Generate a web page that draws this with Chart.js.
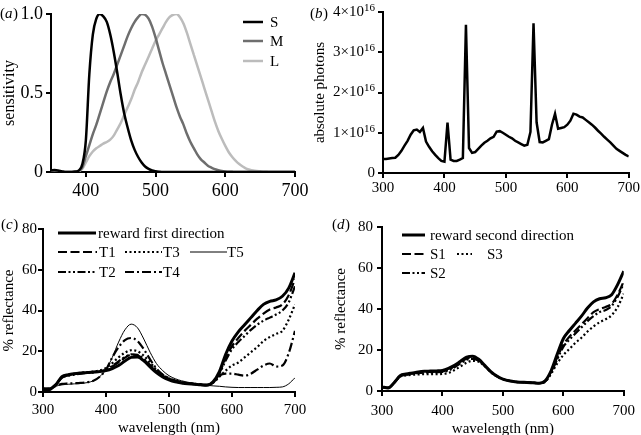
<!DOCTYPE html>
<html>
<head>
<meta charset="utf-8">
<script src="https://cdn.jsdelivr.net/npm/chart.js@4.4.0/dist/chart.umd.min.js"></script>
<style>
html, body { margin: 0; padding: 0; background: #fff; width: 641px; height: 435px; overflow: hidden; }
canvas { position: absolute; }
</style>
</head>
<body>
<canvas id="ca" width="320" height="200" style="left:0;top:0"></canvas>
<canvas id="cb" width="341" height="200" style="left:300px;top:0"></canvas>
<canvas id="cc" width="320" height="235" style="left:0;top:200px"></canvas>
<canvas id="cd" width="321" height="235" style="left:320px;top:200px"></canvas>
<script>
// (a) cone sensitivities, 5 nm steps
var nmA = [350,355,360,365,370,375,380,385,390,395,400,405,410,415,420,425,430,435,440,445,450,455,460,465,470,475,480,485,490,495,500,505,510,515,520,525,530,535,540,545,550,555,560,565,570,575,580,585,590,595,600,605,610,615,620,625,630,635,640,645,650,655,660,665,670,675,680,685,690,695,700];
var sensS = [0.01,0.012,0.01,0.005,0,0,0,0.003,0.01,0.05,0.2,0.62,0.87,0.97,1.0,0.985,0.95,0.87,0.76,0.63,0.49,0.37,0.28,0.2,0.14,0.095,0.06,0.035,0.02,0.01,0.005,0.002,0,0,0,0,0,0,0,0,0,0,0,0,0,0,0,0,0,0,0,0,0,0,0,0,0,0,0,0,0,0,0,0,0,0,0,0,0,0,0];
var sensM = [0.005,0.005,0.003,0,0,0,0,0,0.005,0.03,0.1,0.17,0.24,0.3,0.37,0.44,0.51,0.57,0.62,0.68,0.74,0.8,0.86,0.91,0.95,0.98,1.0,0.995,0.97,0.92,0.85,0.77,0.69,0.62,0.55,0.48,0.41,0.35,0.3,0.24,0.19,0.15,0.11,0.08,0.06,0.04,0.028,0.018,0.012,0.007,0.004,0.002,0.001,0,0,0,0,0,0,0,0,0,0,0,0,0,0,0,0,0,0];
var sensL = [0.005,0.005,0.003,0,0,0,0,0,0.005,0.02,0.06,0.1,0.13,0.15,0.165,0.18,0.19,0.205,0.23,0.27,0.31,0.36,0.41,0.46,0.52,0.57,0.63,0.68,0.73,0.78,0.83,0.87,0.91,0.95,0.98,0.995,1.0,0.98,0.94,0.88,0.81,0.74,0.67,0.6,0.53,0.46,0.39,0.32,0.26,0.21,0.165,0.125,0.095,0.07,0.05,0.035,0.022,0.014,0.009,0.006,0.004,0.002,0.001,0,0,0,0,0,0,0,0];
var ticksAx = [400, 500, 600, 700];
var ticksAy = [0, 0.5, 1];

// (b) light spectrum, absolute photons in units of 10^16
var nmB = [300,305,310,315,320,325,330,335,340,345,350,355,360,365,370,375,380,385,390,395,400,405,410,415,420,425,430,435,440,445,450,455,460,465,470,475,480,485,490,495,500,505,510,515,520,525,530,535,540,545,550,555,560,565,570,575,580,585,590,595,600,605,610,615,620,625,630,635,640,645,650,655,660,665,670,675,680,685,690,695,700];
var photons = [0.35,0.35,0.36,0.37,0.38,0.45,0.55,0.68,0.8,0.95,1.06,1.08,1.02,1.12,0.78,0.65,0.54,0.45,0.37,0.3,0.28,1.25,0.33,0.3,0.3,0.33,0.37,3.68,0.62,0.5,0.52,0.6,0.68,0.75,0.8,0.86,0.9,1.03,1.04,1.0,0.95,0.9,0.86,0.8,0.76,0.72,0.68,0.7,1.02,3.72,1.26,0.77,0.76,0.8,0.84,1.2,1.47,1.1,1.12,1.14,1.2,1.3,1.47,1.45,1.4,1.38,1.32,1.26,1.2,1.13,1.05,0.98,0.9,0.83,0.76,0.68,0.6,0.55,0.5,0.45,0.41];
var ticksBx = [300, 400, 500, 600, 700];
var ticksBy = [0, 1, 2, 3, 4];

// (c), (d) reflectance, 10 nm steps
var nmCD = [300,310,320,330,340,350,360,370,380,390,400,410,420,430,440,450,460,470,480,490,500,510,520,530,540,550,560,570,580,590,600,610,620,630,640,650,660,670,680,690,700];
var rewardFirst = [1.5,1.5,3.5,7.5,8.5,9,9.3,9.6,9.8,10,10.5,11.5,13,15.2,17,17.2,15.3,12.3,9.5,7.4,6,5,4.4,4,3.8,3.5,3.3,5,10,18.5,25,29.5,33,36.5,40,43,44.5,45.2,47,51,58.5];
var t1 = [1.5,1.5,3.5,7,8.3,8.8,9.2,9.5,9.8,10.2,10.8,12.5,14.5,16.8,18.3,18,16,13,10,7.8,6.3,5.2,4.5,4.1,3.9,3.6,3.4,4.8,9.5,16.5,22.5,26.5,30,33,36,38.5,40.5,41.5,43,47.5,55.5];
var t2 = [1.5,1.5,3.5,7,8,8.5,9,9.3,9.6,10.2,10.8,12.8,15,17.2,18.5,18.2,16.2,13.2,10.2,7.9,6.4,5.3,4.6,4.2,4,3.7,3.5,4.6,9,15.5,21,24.5,27.5,30.5,33,35,36.5,38,40,44,52];
var t3 = [1.5,1.5,3.5,7.3,8.5,9,9.4,9.7,10,10.6,11.8,14.2,17,19.3,20.5,20,17.8,14.5,11,8.5,6.8,5.5,4.7,4.2,3.9,3.6,3.4,4.5,7.5,10.5,13,14.5,17,19.5,22,25,27,28.5,30,35.5,43];
var t4 = [1,1,3,4,4.2,4.3,4.5,4.8,5.5,7.5,11,17,22,25.5,26.5,25,21,16,11.5,8.5,6.8,5.6,4.8,4.3,4,3.7,3.5,4.5,8,9,9,8.5,8,9,11,13,14,12.5,13,19,30];
var t5 = [1,1,2.8,3.5,3.8,4,4.2,4.6,5.5,7.5,11,17,24.5,30.5,33.3,31.5,26,19.5,14,10.5,8,6.5,5.5,4.8,4.2,3.8,3.3,3,2.8,2.5,2.3,2.2,2.2,2.2,2.2,2.2,2.2,2.3,2.5,4,7];
var rewardSecond = [2,1.5,4,7.5,8.3,8.8,9.3,9.6,9.7,9.8,10,11,12.5,14.5,16.5,17,15.5,12.5,9.5,7.3,5.8,5,4.5,4.3,4.2,4,3.8,5,10,18,25.5,29.5,33,36.5,40.5,43.5,45,45.5,47,52,58.5];
var s1 = [2,1.5,4,7.3,8,8.5,9,9.2,9.3,9.4,9.5,10.5,12,14,15.8,16.2,15,12.3,9.4,7.2,5.8,5,4.5,4.3,4.2,4,3.8,4.8,9.5,16.5,22.5,26.5,29.5,32.5,35.5,38.5,40,41,42.5,47,53.5];
var s2 = [2,1.5,4,7.2,8,8.4,8.8,9,9.1,9.2,9.3,10,11.5,13.5,15.2,15.7,14.8,12.2,9.3,7.2,5.8,5,4.5,4.3,4.2,4,3.8,4.7,9,15.5,21.5,25,28,31,34,36.5,38.5,39.5,41.5,46,52.5];
var s3 = [2,1.5,4,7,7.6,7.9,8.1,8.2,8.2,8.2,8.3,8.8,10.2,12,13.8,14.7,14.3,12,9.2,7.1,5.7,5,4.5,4.3,4.2,4,3.8,4.5,8.5,13.5,17.5,20.5,23.5,26,29,31.5,33.5,35,37,41,47.5];
var ticksCx = [300, 400, 500, 600, 700];
var ticksCy = [0, 20, 40, 60, 80];

var serif = "'Liberation Serif', 'Times New Roman', serif";
Chart.defaults.font.family = serif;
Chart.defaults.color = '#000';
Chart.defaults.animation = false;
Chart.defaults.devicePixelRatio = 1;

function xy(xs, ys) {
    return xs.map(function (x, i) { return {x: x, y: ys[i]}; });
}

function axis(o) {
    return {
        type: 'linear', min: o.min, max: o.max,
        afterBuildTicks: function (s) { s.ticks = o.ticks.map(function (v) { return {value: v}; }); },
        afterFit: function (s) { if (s.isHorizontal()) s.height = o.size; else s.width = o.size; },
        grid: {display: true, drawOnChartArea: false, drawTicks: true, tickLength: 5, color: '#000', lineWidth: 2},
        border: {display: true, color: '#000', width: 2},
        ticks: {font: {size: o.fs || 15}, color: '#000', padding: o.pad, maxRotation: 0, autoSkip: false, callback: o.cb},
        title: o.title ? {display: true, text: o.title, color: '#000', font: {size: o.ts || 15}, padding: o.tp} : {display: false}
    };
}

function line(label, data, color, width, dash, smooth) {
    return {
        label: label, data: data, borderColor: color, backgroundColor: color, borderWidth: width,
        borderDash: dash || [], pointRadius: 0, fill: false,
        cubicInterpolationMode: smooth ? 'monotone' : 'default', tension: 0
    };
}

function letter(ch, x, y) {
    return {
        id: 'letter', afterDraw: function (chart) {
            var ctx = chart.ctx;
            ctx.save();
            ctx.fillStyle = '#000';
            ctx.textBaseline = 'middle';
            ctx.textAlign = 'left';
            ctx.font = '15px ' + serif;
            ctx.fillText('(', x, y);
            var w = ctx.measureText('(').width;
            ctx.font = 'italic 15px ' + serif;
            ctx.fillText(ch, x + w, y);
            w += ctx.measureText(ch).width + 0.5;
            ctx.font = '15px ' + serif;
            ctx.fillText(')', x + w, y);
            ctx.restore();
        }
    };
}

function legend(items) {
    return {
        id: 'lgd', afterDraw: function (chart) {
            var ctx = chart.ctx;
            ctx.save();
            items.forEach(function (it) {
                var ds = chart.data.datasets[it.i];
                ctx.strokeStyle = ds.borderColor;
                ctx.lineWidth = ds.borderWidth;
                ctx.setLineDash(ds.borderDash);
                ctx.beginPath();
                ctx.moveTo(it.x, it.y);
                ctx.lineTo(it.x + it.len, it.y);
                ctx.stroke();
                ctx.setLineDash([]);
                ctx.fillStyle = '#000';
                ctx.font = '15px ' + serif;
                ctx.textBaseline = 'middle';
                ctx.textAlign = 'left';
                ctx.fillText(ds.label, it.tx, it.y + 1);
            });
            ctx.restore();
        }
    };
}

var sciLabels = {
    id: 'sci', afterDraw: function (chart) {
        var ys = chart.scales.y, ctx = chart.ctx, right = ys.right - 8;
        ctx.save();
        ctx.fillStyle = '#000';
        ctx.textBaseline = 'middle';
        ticksBy.forEach(function (v) {
            var y = ys.getPixelForValue(v);
            if (v === 0) {
                ctx.font = '15px ' + serif;
                ctx.textAlign = 'right';
                ctx.fillText('0', right, y);
                return;
            }
            ctx.font = '11px ' + serif;
            var w = ctx.measureText('16').width;
            ctx.textAlign = 'right';
            ctx.fillText('16', right, y - 4);
            ctx.font = '15px ' + serif;
            ctx.fillText(v + '×10', right - w, y);
        });
        ctx.restore();
    }
};

var DASH = [9, 3.5], DOT = [2, 2.5], DDOT = [8, 2.5, 2, 2.5, 2, 2.5], DDASH = [9, 3, 2, 3];

// (a)
new Chart(document.getElementById('ca'), {
    type: 'line',
    data: {datasets: [
        line('S', xy(nmA, sensS), '#000000', 2.5, null, true),
        line('M', xy(nmA, sensM), '#6e6e6e', 2.5, null, true),
        line('L', xy(nmA, sensL), '#bcbcbc', 2.5, null, true)
    ]},
    options: {
        responsive: false, animation: false,
        layout: {padding: {top: 14, right: 25, left: 0, bottom: 0}},
        plugins: {legend: {display: false}, tooltip: {enabled: false}},
        scales: {
            x: axis({min: 350, max: 700, ticks: ticksAx, size: 28, fs: 18, pad: 3}),
            y: axis({min: 0, max: 1, ticks: ticksAy, size: 51, fs: 18, pad: 3,
                cb: function (v) { return v === 0 ? '0' : v.toFixed(1); },
                title: 'sensitivity', ts: 16, tp: {top: 0, bottom: 0}})
        }
    },
    plugins: [letter('a', 0, 14), legend([
        {i: 0, x: 243, y: 22, len: 20, tx: 270},
        {i: 1, x: 243, y: 41, len: 20, tx: 270},
        {i: 2, x: 243, y: 61, len: 20, tx: 270}
    ])]
});

// (b)
new Chart(document.getElementById('cb'), {
    type: 'line',
    data: {datasets: [line('photons', xy(nmB, photons), '#000000', 2.5, null, false)]},
    options: {
        responsive: false, animation: false,
        layout: {padding: {top: 10, right: 11, left: 0, bottom: 0}},
        plugins: {legend: {display: false}, tooltip: {enabled: false}},
        scales: {
            x: axis({min: 300, max: 700, ticks: ticksBx, size: 27, pad: 1}),
            y: axis({min: 0, max: 4, ticks: ticksBy, size: 83, pad: 3,
                cb: function () { return ''; },
                title: 'absolute photons', tp: {top: 11, bottom: 0}})
        }
    },
    plugins: [sciLabels, letter('b', 10, 14)]
});

// (c)
new Chart(document.getElementById('cc'), {
    type: 'line',
    data: {datasets: [
        line('reward first direction', xy(nmCD, rewardFirst), '#000', 3, null, true),
        line('T1', xy(nmCD, t1), '#000', 2.2, DASH, true),
        line('T3', xy(nmCD, t3), '#000', 2.2, DOT, true),
        line('T5', xy(nmCD, t5), '#000', 1, null, true),
        line('T2', xy(nmCD, t2), '#000', 2.2, DDOT, true),
        line('T4', xy(nmCD, t4), '#000', 2.2, DDASH, true)
    ]},
    options: {
        responsive: false, animation: false,
        layout: {padding: {top: 29, right: 25, left: 0, bottom: 0}},
        plugins: {legend: {display: false}, tooltip: {enabled: false}},
        scales: {
            x: axis({min: 300, max: 700, ticks: ticksCx, size: 43, pad: 4,
                title: 'wavelength (nm)', tp: {top: 0, bottom: -2}}),
            y: axis({min: 0, max: 80, ticks: ticksCy, size: 43, pad: 1,
                title: '% reflectance', tp: {top: 0, bottom: 0}})
        }
    },
    plugins: [letter('c', 1, 25), legend([
        {i: 0, x: 58, y: 33, len: 38, tx: 98},
        {i: 1, x: 58, y: 52, len: 39, tx: 99},
        {i: 2, x: 125, y: 52, len: 37, tx: 163},
        {i: 3, x: 190, y: 52, len: 37, tx: 227},
        {i: 4, x: 58, y: 72, len: 39, tx: 99},
        {i: 5, x: 125, y: 72, len: 37, tx: 163}
    ])]
});

// (d)
new Chart(document.getElementById('cd'), {
    type: 'line',
    data: {datasets: [
        line('reward second direction', xy(nmCD, rewardSecond), '#000', 3, null, true),
        line('S1', xy(nmCD, s1), '#000', 2.2, DASH, true),
        line('S3', xy(nmCD, s3), '#000', 2.2, DOT, true),
        line('S2', xy(nmCD, s2), '#000', 2.2, DDOT, true)
    ]},
    options: {
        responsive: false, animation: false,
        layout: {padding: {top: 27, right: 14, left: 0, bottom: 0}},
        plugins: {legend: {display: false}, tooltip: {enabled: false}},
        scales: {
            x: axis({min: 300, max: 700, ticks: ticksCx, size: 44, pad: 6,
                title: 'wavelength (nm)', tp: {top: 0, bottom: -3}}),
            y: axis({min: 0, max: 80, ticks: ticksCy, size: 62, pad: 4,
                title: '% reflectance', tp: {top: 12, bottom: 0}})
        }
    },
    plugins: [letter('d', 12, 25), legend([
        {i: 0, x: 82, y: 35, len: 23, tx: 110},
        {i: 1, x: 82, y: 54, len: 23, tx: 110},
        {i: 2, x: 137, y: 54, len: 15, tx: 167},
        {i: 3, x: 82, y: 73, len: 23, tx: 110}
    ])]
});
</script>
</body>
</html>
